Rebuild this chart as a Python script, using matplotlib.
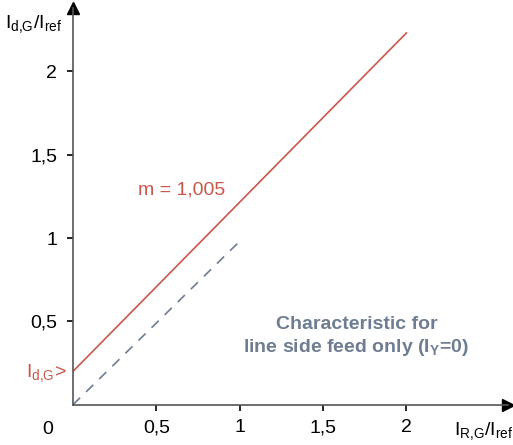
import matplotlib
matplotlib.use("Agg")
import matplotlib.pyplot as plt

plt.rcParams['font.family'] = ['Liberation Sans', 'DejaVu Sans']
plt.rcParams['mathtext.fontset'] = 'custom'
plt.rcParams['mathtext.rm'] = 'Liberation Sans'

# data
red_x = [0.0, 2.0]
red_y = [0.2, 2.23]
dash_x = [0.0, 1.02]
dash_y = [0.0, 1.0]
ticks = [0.5, 1, 1.5, 2]
tick_labels = ['0,5', '1', '1,5', '2']

red = '#c9574b'
slate = '#6e7d92'
axis_col = '#555555'

fig = plt.figure(figsize=(5.13, 4.45), dpi=100)
ax = fig.add_axes([73 / 513, 40.3 / 445, 435 / 513, 396.7 / 445])
ax.set_xlim(0, 435 / 166.7)
ax.set_ylim(0, 396.7 / 166.7)

ax.plot(red_x, red_y, color=red, lw=1.2)
ax.plot(dash_x, dash_y, color=slate, lw=1.2, ls=(0, (6, 5)))

for s in ['top', 'right']:
    ax.spines[s].set_visible(False)
for s in ['left', 'bottom']:
    ax.spines[s].set_color(axis_col)
    ax.spines[s].set_linewidth(1.2)

# arrow heads
ax.plot(1, 0, marker='>', color='black', ms=9, transform=ax.get_yaxis_transform(), clip_on=False)
ax.plot(0, 1, marker='^', color='black', ms=9, transform=ax.get_xaxis_transform(), clip_on=False)

ax.set_xticks(ticks)
ax.set_xticklabels(tick_labels)
ax.set_yticks(ticks)
ax.set_yticklabels(tick_labels)
ax.tick_params(axis='x', length=4.5, width=1.2, color='black', pad=6, labelsize=14)
ax.tick_params(axis='y', length=4.5, width=1.2, color='black', pad=7, labelsize=14)

fig.text(48 / 513, 1 - 430 / 445, '0', fontsize=14, ha='center', va='center')

fig.text(34 / 513, 1 - 24 / 445, r'$\mathregular{I_{d{,}G}/I_{ref}}$', fontsize=14,
         ha='center', va='center')
fig.text(484 / 513, 1 - 431 / 445, r'$\mathregular{I_{R{,}G}/I_{ref}}$', fontsize=14,
         ha='center', va='center')

ax.text(0.65, 1.29, 'm = 1,005', color=red, fontsize=14, ha='center', va='center')
fig.text(46 / 513, 1 - 373 / 445, r'$\mathregular{I_{d{,}G}}$>', color=red, fontsize=14,
         ha='center', va='center')

ax.text(1.70, 0.405, 'Characteristic for\nline side feed only ($\\mathregular{I_Y}$=0)',
        color=slate, fontsize=14, fontweight='bold', ha='center', va='center',
        linespacing=1.3)

fig.savefig('out.png', dpi=100)
